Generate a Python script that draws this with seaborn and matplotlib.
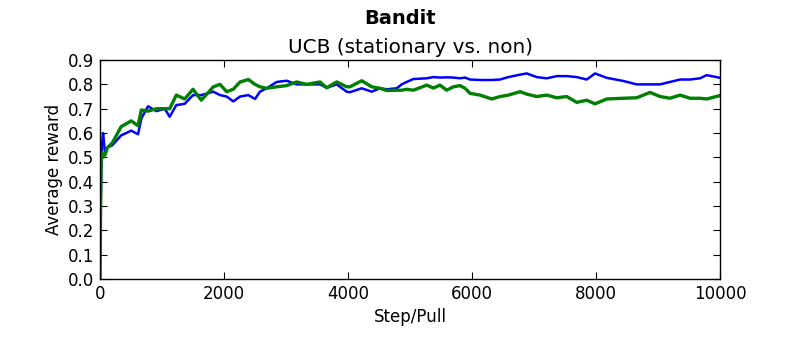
import matplotlib
matplotlib.use("Agg")
import matplotlib.pyplot as plt
import matplotlib.ticker as mticker
import pandas as pd
import seaborn as sns

steps = [0, 10, 20, 30, 50, 80, 120, 200, 340, 505, 613, 667, 775, 910, 1043,
         1124, 1231, 1366, 1500, 1634, 1828, 1936, 2043, 2150, 2258, 2393, 2500,
         2580, 2689, 2850, 3011, 3172, 3334, 3549, 3656, 3818, 3979, 4033, 4221,
         4383, 4516, 4624, 4786, 4866, 4947, 5054, 5269, 5377, 5484, 5592, 5699,
         5807, 5888, 5968, 6130, 6318, 6452, 6587, 6775, 6883, 7044, 7205, 7367,
         7528, 7690, 7850, 7985, 8173, 8441, 8656, 8872, 9033, 9194, 9356, 9517,
         9678, 9786, 10000]

stationary = [0.15, 0.30, 0.45, 0.55, 0.60, 0.52, 0.54, 0.55, 0.59, 0.61, 0.595,
              0.66, 0.71, 0.69, 0.70, 0.667, 0.715, 0.72, 0.756, 0.756, 0.77,
              0.756, 0.75, 0.73, 0.75, 0.756, 0.74, 0.77, 0.784, 0.81, 0.815,
              0.80, 0.80, 0.80, 0.786, 0.80, 0.77, 0.768, 0.784, 0.77, 0.784,
              0.78, 0.784, 0.80, 0.81, 0.822, 0.825, 0.83, 0.828, 0.829, 0.828,
              0.825, 0.828, 0.82, 0.818, 0.818, 0.82, 0.83, 0.84, 0.845, 0.83,
              0.825, 0.834, 0.834, 0.83, 0.82, 0.845, 0.827, 0.814, 0.80, 0.80,
              0.80, 0.81, 0.82, 0.82, 0.825, 0.838, 0.827]

non_stationary = [0.0, 0.30, 0.50, 0.52, 0.50, 0.51, 0.54, 0.56, 0.626, 0.65, 0.63,
                  0.695, 0.69, 0.70, 0.70, 0.70, 0.756, 0.74, 0.78, 0.735, 0.79,
                  0.80, 0.77, 0.78, 0.81, 0.82, 0.80, 0.79, 0.784, 0.79, 0.795,
                  0.81, 0.80, 0.81, 0.786, 0.81, 0.79, 0.79, 0.815, 0.79, 0.784,
                  0.775, 0.776, 0.776, 0.78, 0.776, 0.797, 0.785, 0.797, 0.776,
                  0.79, 0.795, 0.784, 0.763, 0.756, 0.74, 0.75, 0.756, 0.77, 0.76,
                  0.75, 0.756, 0.745, 0.75, 0.726, 0.735, 0.72, 0.74, 0.743, 0.745,
                  0.767, 0.75, 0.743, 0.756, 0.743, 0.743, 0.74, 0.754]

x_ticks = [0, 2000, 4000, 6000, 8000, 10000]
y_ticks = [0.0, 0.1, 0.2, 0.3, 0.4, 0.5, 0.6, 0.7, 0.8, 0.9]

df = pd.DataFrame({"step": steps, "stationary": stationary,
                   "non-stationary": non_stationary})

sns.set_style("ticks")
plt.rcParams["font.family"] = ["DejaVu Sans"]
plt.rcParams["font.size"] = 12
plt.rcParams["text.color"] = "black"
plt.rcParams["axes.labelcolor"] = "black"

fig = plt.figure(figsize=(8, 3.64), dpi=100)
ax = fig.add_axes([0.125, 0.2335, 0.775, 0.6015])

sns.lineplot(data=df, x="step", y="stationary", color="#0000ff", lw=1.8, ax=ax)
sns.lineplot(data=df, x="step", y="non-stationary", color="#008000", lw=2.4, ax=ax)

ax.set_xlim(0, 10000)
ax.set_ylim(0, 0.9)
ax.set_xticks(x_ticks)
ax.set_yticks(y_ticks)
ax.yaxis.set_major_formatter(mticker.FormatStrFormatter("%.1f"))
ax.tick_params(direction="in", top=True, right=True, length=5, width=0.8,
               labelsize=12, colors="black", pad=4)
for s in ax.spines.values():
    s.set_color("black")
    s.set_linewidth(1.0)

ax.set_xlabel("Step/Pull", fontsize=12, color="black")
ax.set_ylabel("Average reward", fontsize=12, color="black")
ax.set_title("UCB (stationary vs. non)", fontsize=14.4, pad=5, color="black")
fig.suptitle("Bandit", fontsize=14, fontweight="bold", y=0.975, color="black")

fig.savefig("out.png", dpi=100, facecolor="white")
